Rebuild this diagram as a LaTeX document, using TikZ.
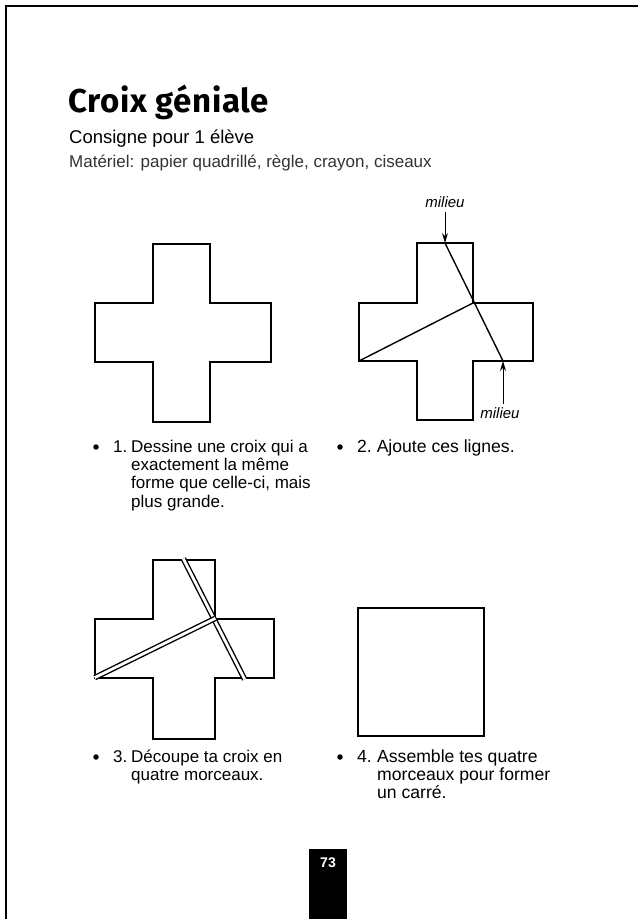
\documentclass[tikz,border=0pt]{standalone}
\usepackage{fontspec}
\setmainfont{Liberation Sans}
\newfontfamily\titrefont{Fira Sans}[LetterSpace=2]
\usepackage{tikz}
\usetikzlibrary{arrows.meta}

\tikzset{
  trait/.style={black, line width=1.6pt, line join=miter},
  coupe/.style={black, line width=1.4pt, double=white, double distance=2.8pt, shorten <=-1.5pt, shorten >=-1.5pt},
  fleche/.style={black, line width=1pt, -{Stealth[length=10pt,width=6pt]}},
  texte/.style={inner sep=0pt, anchor=base west},
  puce/.style={circle, fill=black, inner sep=0pt, minimum size=5.5pt},
  etape/.style={inner sep=0pt, anchor=base west, font=\fontsize{17}{18.4}\selectfont},
  etapedroite/.style={etape, font=\fontsize{17.6}{18.4}\selectfont}
}

\begin{document}
\begin{tikzpicture}[x=1pt,y=1pt]
\useasboundingbox (0,0) rectangle (638,-919);
\draw [black, line width=2pt] (6,-919) -- (6,-6) -- (638,-6);
\node [texte, font=\titrefont\bfseries\fontsize{33}{33}\selectfont] (titre) at (68,-112) {Croix géniale};
\node [texte, font=\fontsize{18.5}{20}\selectfont] (consigne) at (69,-143) {Consigne pour 1 élève};
\node [texte, font=\fontsize{17}{20}\selectfont, text=black!80] (materiel) at (69,-167) {Matériel: papier quadrillé, règle, crayon, ciseaux};
\draw [trait] (153,-244) -- (210,-244) -- (210,-303) -- (271,-303) -- (271,-362) -- (210,-362) -- (210,-422) -- (153,-422) -- (153,-362) -- (95,-362) -- (95,-303) -- (153,-303) -- cycle;
\draw [trait] (417,-243) -- (473,-243) -- (473,-303) -- (533,-303) -- (533,-361) -- (473,-361) -- (473,-420) -- (417,-420) -- (417,-361) -- (359,-361) -- (359,-303) -- (417,-303) -- cycle;
\coordinate (milA) at (445,-243);
\coordinate (coinB) at (473,-303);
\coordinate (milB) at (503,-361);
\coordinate (coinG) at (359,-361);
\draw [trait, line width=1.4pt] (milA) -- (milB);
\draw [trait, line width=1.4pt] (coinG) -- (coinB);
\node [inner sep=0pt, font=\itshape\fontsize{15}{15}\selectfont] (haut) at (445,-202) {milieu};
\node [inner sep=0pt, font=\itshape\fontsize{15}{15}\selectfont] (bas) at (500,-413) {milieu};
\draw [fleche] (haut.south) ++(0,-4) -- (milA);
\draw [fleche] (bas.north) ++(3,3) -- (milB);
\node [puce] (puceA) at (96,-447) {};
\node [etape] (etapeA) at (113,-452) {\parbox[t]{210pt}{\hangindent=18pt\hangafter=1\noindent\makebox[18pt][l]{1.}Dessine une croix qui a\\exactement la même\\forme que celle-ci, mais\\plus grande.}};
\node [puce] (puceB) at (340,-447) {};
\node [etapedroite] (etapeB) at (357,-452) {2.\ Ajoute ces lignes.};
\draw [trait] (153,-560) -- (215,-560) -- (215,-619) -- (274,-619) -- (274,-678) -- (215,-678) -- (215,-739) -- (153,-739) -- (153,-678) -- (95,-678) -- (95,-619) -- (153,-619) -- cycle;
\coordinate (milC) at (184,-560);
\coordinate (coinC) at (214,-619);
\coordinate (milD) at (244,-678);
\coordinate (coinD) at (96,-677);
\draw [coupe] (milC) -- (milD);
\draw [coupe] (coinD) -- (coinC);
\draw [trait] (358,-608) rectangle (484,-736);
\node [puce] (puceC) at (96,-757) {};
\node [etape] (etapeC) at (113,-762) {\parbox[t]{210pt}{\hangindent=18pt\hangafter=1\noindent\makebox[18pt][l]{3.}Découpe ta croix en\\quatre morceaux.}};
\node [puce] (puceD) at (340,-757) {};
\node [etapedroite] (etapeD) at (357,-762) {\parbox[t]{240pt}{\hangindent=20pt\hangafter=1\noindent\makebox[20pt][l]{4.}Assemble tes quatre\\morceaux pour former\\un carré.}};
\fill [black] (309,-849) rectangle (347,-919);
\node [text=white, inner sep=0pt, font=\bfseries\fontsize{14}{14}\selectfont] (page) at (328,-863) {73};
\end{tikzpicture}
\end{document}
